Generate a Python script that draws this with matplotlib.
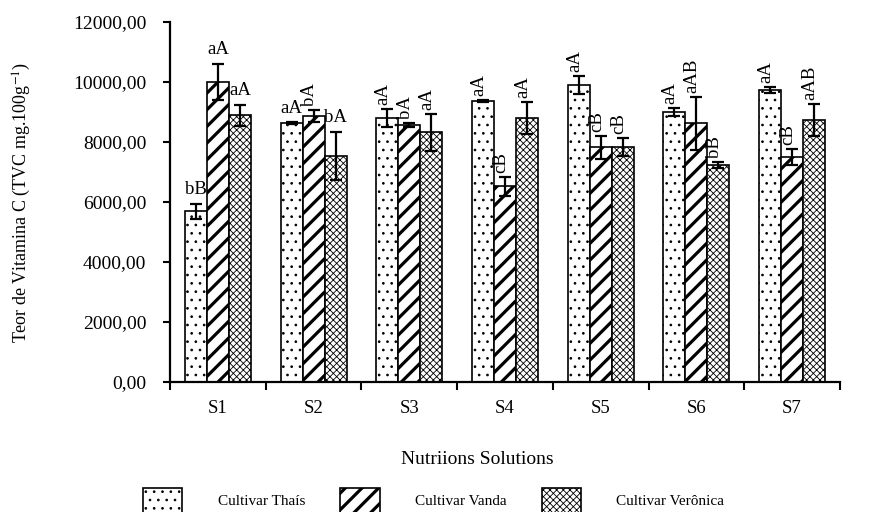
import numpy as np
import matplotlib
matplotlib.use("Agg")
import matplotlib.pyplot as plt
from matplotlib.ticker import FuncFormatter, MultipleLocator
from matplotlib.patches import Patch

plt.rcParams['font.family'] = ['Liberation Serif', 'DejaVu Serif']
plt.rcParams['mathtext.fontset'] = 'stix'

solutions = ['S1', 'S2', 'S3', 'S4', 'S5', 'S6', 'S7']
cultivars = ['Cultivar Thaís', 'Cultivar Vanda', 'Cultivar Verônica']

thais = [5700, 8630, 8790, 9370, 9900, 9010, 9730]
thais_err = [250, 30, 300, 40, 300, 130, 100]
vanda = [10000, 8870, 8570, 6520, 7830, 8630, 7500]
vanda_err = [600, 200, 60, 320, 380, 880, 260]
veronica = [8900, 7550, 8320, 8800, 7830, 7240, 8740]
veronica_err = [350, 800, 620, 540, 300, 100, 530]

lab_thais = ['bB', 'aA', 'aA', 'aA', 'aA', 'aA', 'aA']
lab_vanda = ['aA', 'bA', 'bA', 'cB', 'cB', 'aAB', 'cB']
lab_veronica = ['aA', 'bA', 'aA', 'aA', 'cB', 'bB', 'aAB']
# which labels are written horizontally (the rest are vertical)
flat_thais = [True, True, False, False, False, False, False]
flat_vanda = [True, False, False, False, False, False, False]
flat_veronica = [True, True, False, False, False, False, False]

values = [thais, vanda, veronica]
errors = [thais_err, vanda_err, veronica_err]
labels = [lab_thais, lab_vanda, lab_veronica]
flats = [flat_thais, flat_vanda, flat_veronica]
hatches = ['..', '//', 'xxxxx']
hatch_lw = [0.7, 2.3, 0.6]

fig = plt.figure(figsize=(8.69, 5.12), dpi=100)
ax = fig.add_axes([0.1956, 0.2539, 0.7710, 0.7031])

x = np.arange(len(solutions))
w = 0.23
for i in range(3):
    with plt.rc_context({'hatch.linewidth': hatch_lw[i]}):
        ax.bar(x + (i - 1) * w, values[i], w, color='white', edgecolor='black',
               linewidth=1.2, hatch=hatches[i], zorder=2)
    ax.errorbar(x + (i - 1) * w, values[i], yerr=errors[i], fmt='none', ecolor='black',
                elinewidth=1.6, capsize=4, capthick=1.6, zorder=3)
    for j in range(len(solutions)):
        top = values[i][j] + errors[i][j]
        if flats[i][j]:
            ax.annotate(labels[i][j], (x[j] + (i - 1) * w, top), xytext=(0, 4),
                        textcoords='offset points', ha='center', va='bottom', fontsize=13.5)
        else:
            ax.annotate(labels[i][j], (x[j] + (i - 1) * w, top), xytext=(-3, 3),
                        textcoords='offset points', ha='center', va='bottom',
                        rotation=90, fontsize=13.5)

ax.set_xlim(-0.5, len(solutions) - 0.5)
ax.set_ylim(0, 12000)
ax.yaxis.set_major_locator(MultipleLocator(2000))
ax.yaxis.set_major_formatter(FuncFormatter(lambda v, p: f"{v:.2f}".replace('.', ',')))
ax.set_xticks(x)
ax.set_xticklabels(solutions)
ax.set_xticks(np.arange(-0.5, len(solutions)), minor=True)
ax.tick_params(axis='x', which='major', length=0, pad=13, labelsize=13.5)
ax.tick_params(axis='x', which='minor', length=6, width=1.5, direction='out')
ax.tick_params(axis='y', length=5, width=1.5, direction='out', pad=12, labelsize=14)
for s in ['top', 'right']:
    ax.spines[s].set_visible(False)
for s in ['left', 'bottom']:
    ax.spines[s].set_linewidth(1.6)

ax.set_ylabel('Teor de Vitamina C (TVC mg.100g$^{-1}$)', fontsize=13)
ax.yaxis.set_label_coords(-0.205, 0.5)
fig.text(477 / 869, 1 - 460 / 512, 'Nutriions Solutions', ha='center', va='center', fontsize=14)

handles = [Patch(facecolor='white', edgecolor='black', linewidth=1.2, hatch=h) for h in hatches]
leg = fig.legend(handles, cultivars, ncol=3, loc='upper left', bbox_to_anchor=(135 / 869, 1 - 480 / 512),
                 frameon=False, fontsize=11, borderpad=0, handlelength=2.6, handleheight=2.2,
                 handletextpad=2.3, columnspacing=2.3)
for p, lw in zip(leg.get_patches(), hatch_lw):
    if hasattr(p, 'set_hatch_linewidth'):
        p.set_hatch_linewidth(lw)

fig.savefig('out.png', dpi=100)
